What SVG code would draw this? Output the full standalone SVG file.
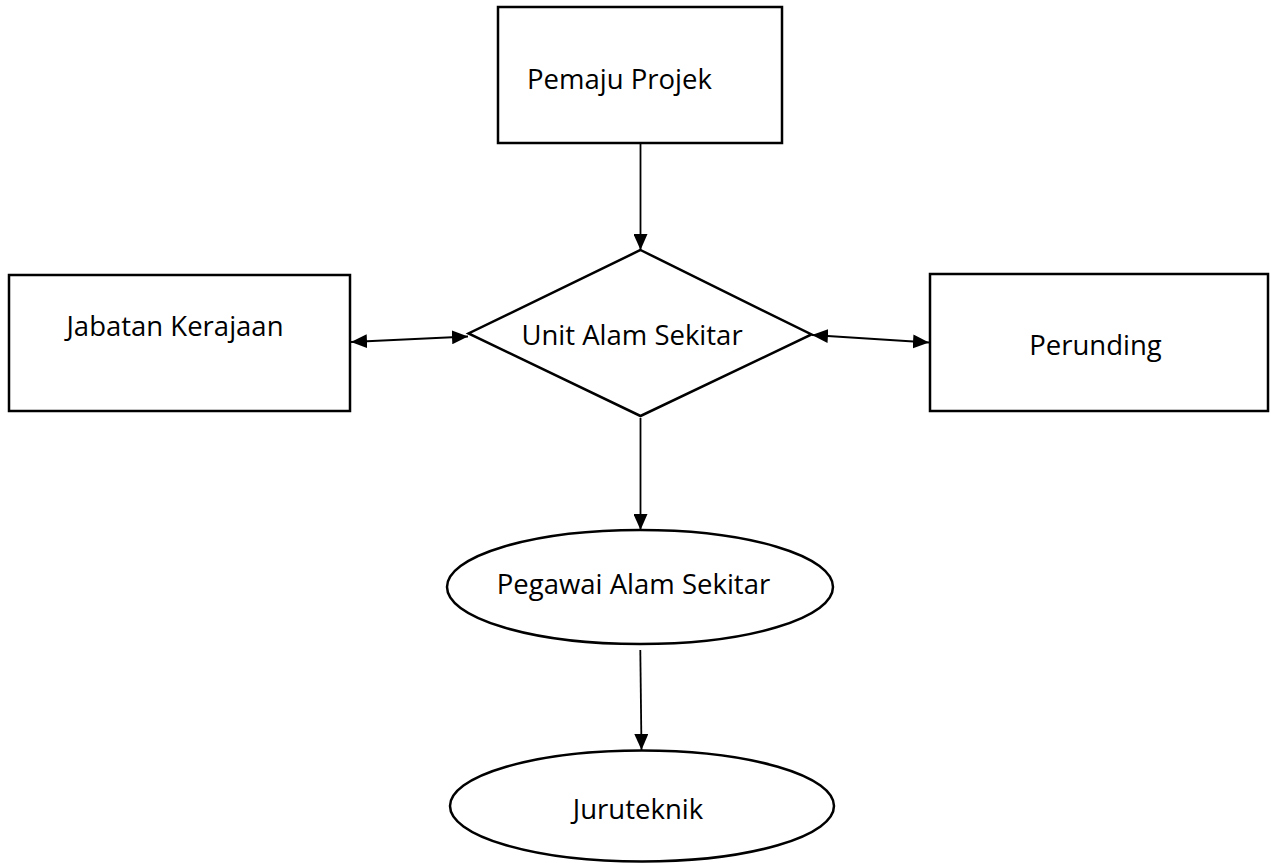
<svg xmlns="http://www.w3.org/2000/svg" width="1271" height="863" viewBox="0 0 1271 863">
<defs>
<style>
.n{fill:#fff;stroke:#000;stroke-width:2.5}
.t{font-family:"Open Sans","Liberation Sans",sans-serif;font-size:27.5px;fill:#000;text-anchor:middle}
.c{stroke:#000;stroke-width:1.8;fill:none}
</style>
<marker id="b" viewBox="0 0 16 14" refX="16" refY="7" markerWidth="16" markerHeight="14" markerUnits="userSpaceOnUse" orient="auto-start-reverse">
<path d="M0,0L16,7L0,14z" fill="#000"/>
</marker>
</defs>
<rect width="1271" height="863" fill="#fff"/>
<g id="connectors">
<line class="c" x1="640.5" y1="143" x2="640.5" y2="250" marker-end="url(#b)"/>
<line class="c" x1="351" y1="342" x2="468" y2="336.5" marker-start="url(#b)" marker-end="url(#b)"/>
<line class="c" x1="812" y1="335" x2="929" y2="342.5" marker-start="url(#b)" marker-end="url(#b)"/>
<line class="c" x1="640.5" y1="418" x2="640.5" y2="530" marker-end="url(#b)"/>
<line class="c" x1="640.3" y1="650" x2="641.5" y2="750" marker-end="url(#b)"/>
</g>
<g id="pemaju">
<rect class="n" x="498" y="7" width="284" height="136"/>
<text class="t" x="619.5" y="89">Pemaju Projek</text>
</g>
<g id="jabatan">
<rect class="n" x="9" y="275" width="341" height="136"/>
<text class="t" x="175" y="336">Jabatan Kerajaan</text>
</g>
<g id="unit">
<polygon class="n" points="640.5,250 811.5,334.5 640.5,416 468.5,333.5"/>
<text class="t" x="632" y="345">Unit Alam Sekitar</text>
</g>
<g id="perunding">
<rect class="n" x="930" y="274" width="338" height="137"/>
<text class="t" x="1095.5" y="355">Perunding</text>
</g>
<g id="pegawai">
<ellipse class="n" cx="640" cy="587" rx="193" ry="57"/>
<text class="t" x="633.5" y="594">Pegawai Alam Sekitar</text>
</g>
<g id="juruteknik">
<ellipse class="n" cx="642" cy="806" rx="192" ry="55.5"/>
<text class="t" x="638" y="819">Juruteknik</text>
</g>
</svg>
